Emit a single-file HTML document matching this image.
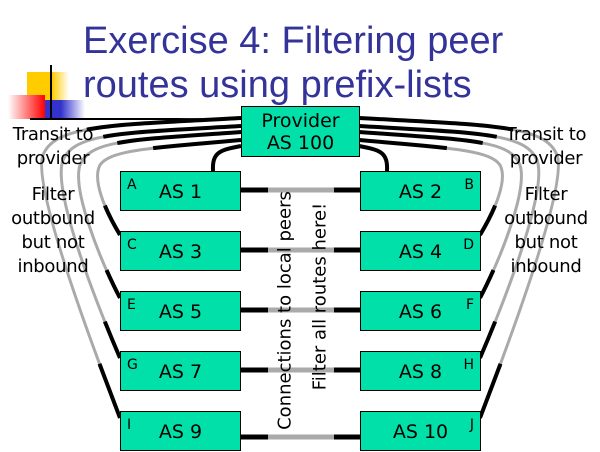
<!DOCTYPE html>
<html><head><style>
body{margin:0;width:600px;height:450px;background:#fff;overflow:hidden;position:relative;font-family:"DejaVu Sans","Liberation Sans",sans-serif}
.t{position:absolute;left:83px;color:#333399;font-size:38px;white-space:nowrap;font-family:"Liberation Sans",sans-serif}
.b{position:absolute;background:#00e0a8;border:1px solid #000;box-sizing:border-box;width:121px;height:40px;font-size:19px;text-align:center;line-height:40px}
.b i{position:absolute;font-style:normal;font-size:14px;line-height:14px;top:6px}
.side{position:absolute;width:110px;text-align:center;font-size:18px;line-height:24px;letter-spacing:-0.3px}
.v{position:absolute;font-size:18px;white-space:nowrap;transform:rotate(-90deg);transform-origin:center}
</style></head><body>
<div class="t" style="top:20px">Exercise 4: Filtering peer</div>
<div class="t" style="top:64px">routes using prefix-lists</div>
<div style="position:absolute;left:27px;top:72px;width:42px;height:34px;background:linear-gradient(to right,#fc0 60%,#fff)"></div>
<div style="position:absolute;left:45px;top:100px;width:40px;height:20px;background:linear-gradient(to right,#33c 40%,#fff)"></div>
<div style="position:absolute;left:8px;top:95px;width:37px;height:24px;background:linear-gradient(to left,#f00,#fff)"></div>
<div style="position:absolute;left:50px;top:65px;width:2px;height:54px;background:#000"></div>
<div style="position:absolute;left:30px;top:118px;width:210px;height:2px;background:linear-gradient(to right,#000 70%,#ccc)"></div>
<svg width="600" height="450" style="position:absolute;left:0;top:0">
<g fill="none" stroke-width="4">
<g id="L">
<path d="M241,140 C150,148 110,150 100,165 C92,180 105,210 120,235" stroke="#aaa" stroke-width="3"/>
<path d="M241,132 C130,140 90,140 80,165 C72,190 100,260 120,298" stroke="#aaa" stroke-width="3"/>
<path d="M241,126 C120,133 75,133 63,160 C52,190 95,300 120,358" stroke="#aaa" stroke-width="3"/>
<path d="M241,118 C110,125 55,125 43,155 C32,185 90,340 120,418" stroke="#aaa" stroke-width="3"/>
<path d="M241,140 C150,148 110,150 100,165 C92,180 105,210 120,235" stroke="#000" pathLength="100" stroke-dasharray="40 45 15 10"/>
<path d="M241,132 C130,140 90,140 80,165 C72,190 100,260 120,298" stroke="#000" pathLength="100" stroke-dasharray="40 50 10 10"/>
<path d="M241,126 C120,133 75,133 63,160 C52,190 95,300 120,358" stroke="#000" pathLength="100" stroke-dasharray="35 55 10 10"/>
<path d="M241,118 C110,125 55,125 43,155 C32,185 90,340 120,418" stroke="#000" pathLength="100" stroke-dasharray="32 56 12 10"/>
<path d="M241,146 C220,150 212,152 213,171" stroke="#000"/>
</g>
<use href="#L" transform="translate(600,0) scale(-1,1)"/>
</g>
<g stroke-width="5">
<g id="P"><line x1="240" y1="190" x2="268" y2="190" stroke="#000"/><line x1="268" y1="190" x2="334" y2="190" stroke="#aaa"/><line x1="334" y1="190" x2="360" y2="190" stroke="#000"/></g>
<use href="#P" y="60"/><use href="#P" y="120"/><use href="#P" y="180"/><use href="#P" y="247"/>
</g>
</svg>
<div class="b" style="left:241px;top:106px;width:119px;height:51px;line-height:22px;padding-top:3px">Provider<br>AS 100</div>
<div class="b" style="left:120px;top:171px">AS 1<i style="left:6px">A</i></div>
<div class="b" style="left:360px;top:171px">AS 2<i style="right:6px">B</i></div>
<div class="b" style="left:120px;top:231px">AS 3<i style="left:6px">C</i></div>
<div class="b" style="left:360px;top:231px">AS 4<i style="right:6px">D</i></div>
<div class="b" style="left:120px;top:291px">AS 5<i style="left:6px">E</i></div>
<div class="b" style="left:360px;top:291px">AS 6<i style="right:6px">F</i></div>
<div class="b" style="left:120px;top:351px">AS 7<i style="left:6px">G</i></div>
<div class="b" style="left:360px;top:351px">AS 8<i style="right:6px">H</i></div>
<div class="b" style="left:120px;top:411px">AS 9<i style="left:6px">I</i></div>
<div class="b" style="left:360px;top:411px">AS 10<i style="right:6px">J</i></div>
<div class="side" style="left:-2px;top:123px">Transit to<br>provider</div>
<div class="side" style="left:-2px;top:183px">Filter<br>outbound<br>but not<br>inbound</div>
<div class="side" style="left:491px;top:123px">Transit to<br>provider</div>
<div class="side" style="left:491px;top:183px">Filter<br>outbound<br>but not<br>inbound</div>
<div class="v" style="left:165px;top:300px;width:240px;text-align:center">Connections to local peers</div>
<div class="v" style="left:210px;top:286px;width:220px;text-align:center">Filter all routes here!</div>
</body></html>
